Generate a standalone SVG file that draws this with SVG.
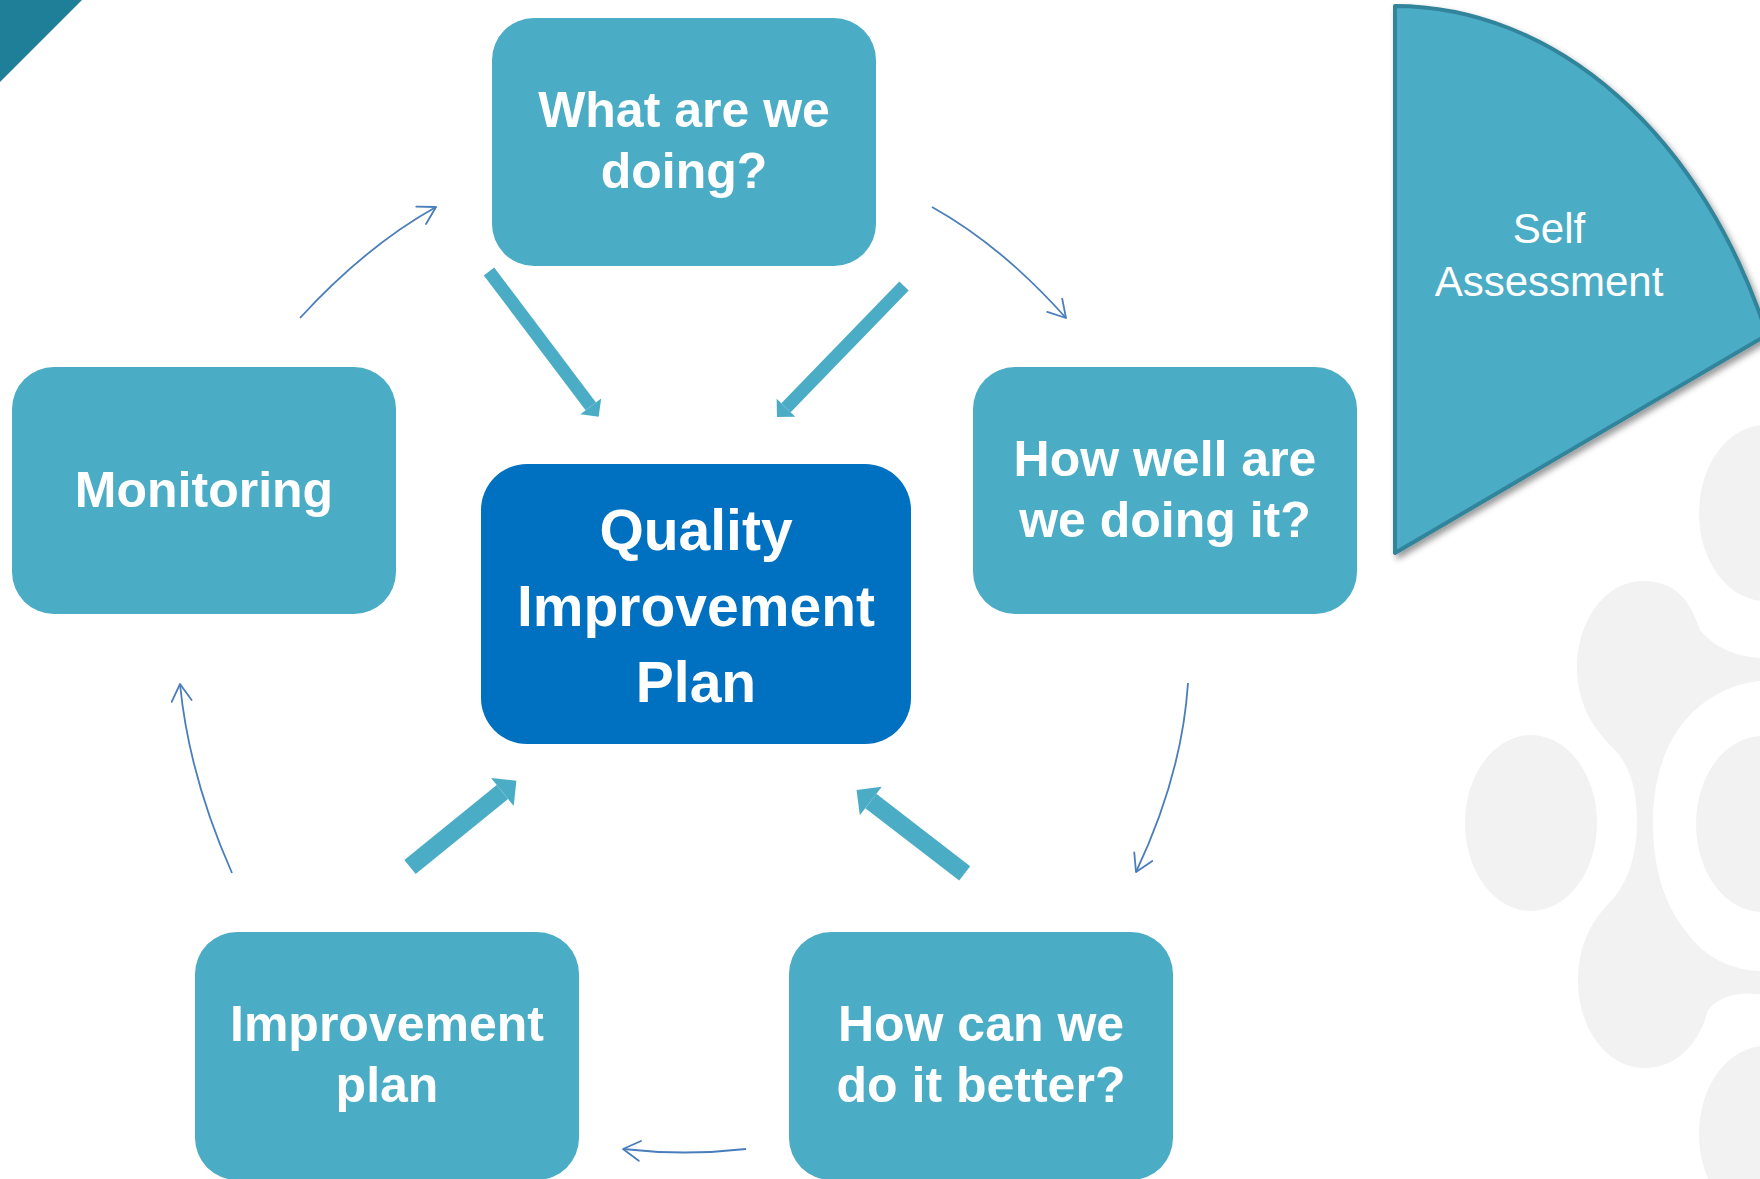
<svg xmlns="http://www.w3.org/2000/svg" width="1760" height="1179" viewBox="0 0 1760 1179">
  <style>
    .node { fill: #4bacc6; }
    .center { fill: #0070c0; }
    .lbl { font-family: "Liberation Sans", Arial, sans-serif; font-weight: bold; fill: #ffffff; text-anchor: middle; font-size: 50px; }
    .big { font-size: 57px; }
    .thin { fill: none; stroke: #4a7ebb; stroke-width: 1.8; marker-end: url(#open); }
    .thick { fill: none; stroke: #4bacc6; marker-end: url(#tri); }
    .bg { fill: #f2f2f3; }
  </style>
  <defs>
    <marker id="open" markerUnits="userSpaceOnUse" viewBox="-20 -12 22 24" refX="0" refY="0" markerWidth="22" markerHeight="24" orient="auto" overflow="visible">
      <path d="M-17,-10 L0,0 L-17,10" fill="none" stroke="#4a7ebb" stroke-width="1.8" stroke-linecap="round" stroke-linejoin="round"/>
    </marker>
    <marker id="tri" markerUnits="strokeWidth" viewBox="0 -1 1 2" refX="0" refY="0" markerWidth="1" markerHeight="2" orient="auto" overflow="visible">
      <path d="M0,-1 L1,0 L0,1 Z" fill="#4bacc6"/>
    </marker>
    <filter id="shadow" x="-10%" y="-10%" width="130%" height="130%">
      <feDropShadow dx="3" dy="4" stdDeviation="3" flood-color="#000000" flood-opacity="0.4"/>
    </filter>
  </defs>

  <rect width="1760" height="1179" fill="#ffffff"/>

  <!-- background decoration -->
  <g id="background">
    <polygon points="0,0 82,0 0,82" fill="#1f7f99"/>
    <ellipse class="bg" cx="1765" cy="513" rx="66" ry="88"/>
    <ellipse class="bg" cx="1531" cy="823" rx="66" ry="88"/>
    <ellipse class="bg" cx="1762" cy="824" rx="66" ry="88"/>
    <ellipse class="bg" cx="1765" cy="1134" rx="66" ry="88"/>
    <path class="bg" d="M1643,581 C1606,581 1577,620 1577,668 C1577,710 1600,735 1615,750 C1632,768 1637,795 1637,822 C1637,850 1630,880 1612,900 C1592,920 1578,945 1578,980 C1578,1030 1608,1068 1644,1068 C1680,1068 1700,1040 1708,1010 C1720,995 1740,992 1760,994 L1760,971 C1735,970 1705,960 1685,930 C1665,905 1653,870 1653,822 C1653,780 1665,740 1690,715 C1710,695 1735,683 1760,681 L1760,658 C1735,656 1715,648 1700,630 C1690,600 1675,581 1643,581 Z"/>
  </g>

  <g id="self-assessment">
    <path d="M1395,553 L1395,6 A406,547 0 0 1 1767,335 Z" fill="#4bacc6" stroke="#31849b" stroke-width="4" stroke-linejoin="round" filter="url(#shadow)"/>
    <text x="1549" y="243" font-family="'Liberation Sans', Arial, sans-serif" font-size="42" fill="#ffffff" text-anchor="middle">Self</text>
    <text x="1549" y="296" font-family="'Liberation Sans', Arial, sans-serif" font-size="42" fill="#ffffff" text-anchor="middle">Assessment</text>
  </g>

  <g id="connectors">
    <path class="thin" d="M300,318 Q366,246 436,207"/>
    <path class="thin" d="M932,207 Q1002,246 1066,318"/>
    <path class="thin" d="M1188,683 Q1182,775 1136,872"/>
    <path class="thin" d="M746,1149 Q685,1156 623,1149"/>
    <path class="thin" d="M232,873 Q189,776 180,684"/>
    <line class="thick" x1="489" y1="271.5" x2="590.8" y2="406.3" stroke-width="13"/>
    <line class="thick" x1="904" y1="286" x2="786" y2="407.7" stroke-width="13"/>
    <line class="thick" x1="410" y1="867" x2="502.4" y2="792" stroke-width="18"/>
    <line class="thick" x1="964.7" y1="873.3" x2="870.8" y2="801" stroke-width="18"/>
  </g>

  <g id="node-what">
    <rect class="node" x="492" y="18" width="384" height="248" rx="42"/>
    <text class="lbl" x="684" y="127">What are we</text>
    <text class="lbl" x="684" y="188">doing?</text>
  </g>

  <g id="node-howwell">
    <rect class="node" x="973" y="367" width="384" height="247" rx="42"/>
    <text class="lbl" x="1165" y="476">How well are</text>
    <text class="lbl" x="1165" y="537">we doing it?</text>
  </g>

  <g id="node-monitoring">
    <rect class="node" x="12" y="367" width="384" height="247" rx="42"/>
    <text class="lbl" x="204" y="507">Monitoring</text>
  </g>

  <g id="node-qip">
    <rect class="center" x="481" y="464" width="430" height="280" rx="46"/>
    <text class="lbl big" x="696" y="550">Quality</text>
    <text class="lbl big" x="696" y="626">Improvement</text>
    <text class="lbl big" x="696" y="702">Plan</text>
  </g>

  <g id="node-improvement">
    <rect class="node" x="195" y="932" width="384" height="248" rx="42"/>
    <text class="lbl" x="387" y="1041">Improvement</text>
    <text class="lbl" x="387" y="1102">plan</text>
  </g>

  <g id="node-better">
    <rect class="node" x="789" y="932" width="384" height="248" rx="42"/>
    <text class="lbl" x="981" y="1041">How can we</text>
    <text class="lbl" x="981" y="1102">do it better?</text>
  </g>
</svg>
